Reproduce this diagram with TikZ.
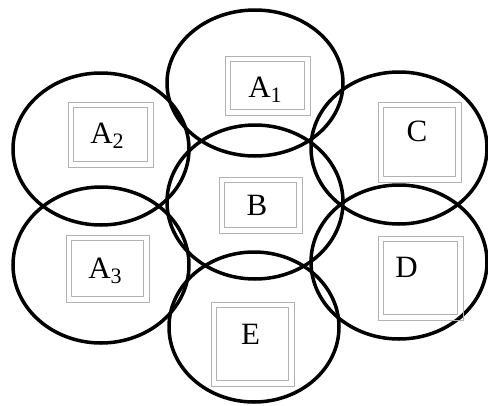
\documentclass[tikz,border=0pt]{standalone}
\usepackage{fontspec}
\setmainfont{Liberation Serif}
\newcommand{\lsub}[1]{\raisebox{-5pt}{\fontsize{22}{24}\selectfont #1}}
\begin{document}
\begin{tikzpicture}[x=1pt,y=-1pt,
  ring/.style={draw=black,line width=3.5pt},
  frame/.style={draw=black!30,line width=0.9pt,inner sep=0pt,minimum width=#1},
  lbl/.style={anchor=base,inner sep=0pt,font=\fontsize{31}{36}\selectfont}]
\useasboundingbox (0,0) rectangle (488,405);
% ellipses
\draw[ring] (255,83) ellipse [x radius=88, y radius=73];
\draw[ring] (101,149) ellipse [x radius=88, y radius=76];
\draw[ring] (101,265) ellipse [x radius=88, y radius=78];
\draw[ring] (255,202) ellipse [x radius=88, y radius=77];
\draw[ring] (399,148) ellipse [x radius=88, y radius=76];
\draw[ring] (399,262) ellipse [x radius=88, y radius=77];
\draw[ring] (254,327) ellipse [x radius=85, y radius=75];
% frames (outer rectangle as node, inner rectangle 6px inside)
\node[frame=85pt,minimum height=59pt] (fA1) at (267.5,85.5) {};
\node[frame=85pt,minimum height=65pt] (fA2) at (110.5,134.5) {};
\node[frame=83pt,minimum height=67pt] (fA3) at (107.5,268.5) {};
\node[frame=83pt,minimum height=56pt] (fB) at (260.5,205) {};
\node[frame=83pt,minimum height=80pt] (fC) at (419.5,142) {};
\node[frame=85pt,minimum height=84pt] (fD) at (420.5,278) {};
\node[frame=83pt,minimum height=84pt] (fE) at (252.5,344) {};
\foreach \f in {fA1,fA2,fA3,fB,fC,fD,fE}
  \draw[draw=black!30,line width=0.9pt] ([shift={(6,6)}]\f.north west) rectangle ([shift={(-6,-6)}]\f.south east);
% labels
\node[lbl] (A1) at (265,97) {A\lsub{1}};
\node[lbl] (A2) at (107,143) {A\lsub{2}};
\node[lbl] (A3) at (105,278) {A\lsub{3}};
\node[lbl] (B) at (257,215) {B};
\node[lbl] (C) at (417,141) {C};
\node[lbl] (D) at (406.5,277) {D};
\node[lbl] (E) at (250.5,344) {E};
\end{tikzpicture}
\end{document}
